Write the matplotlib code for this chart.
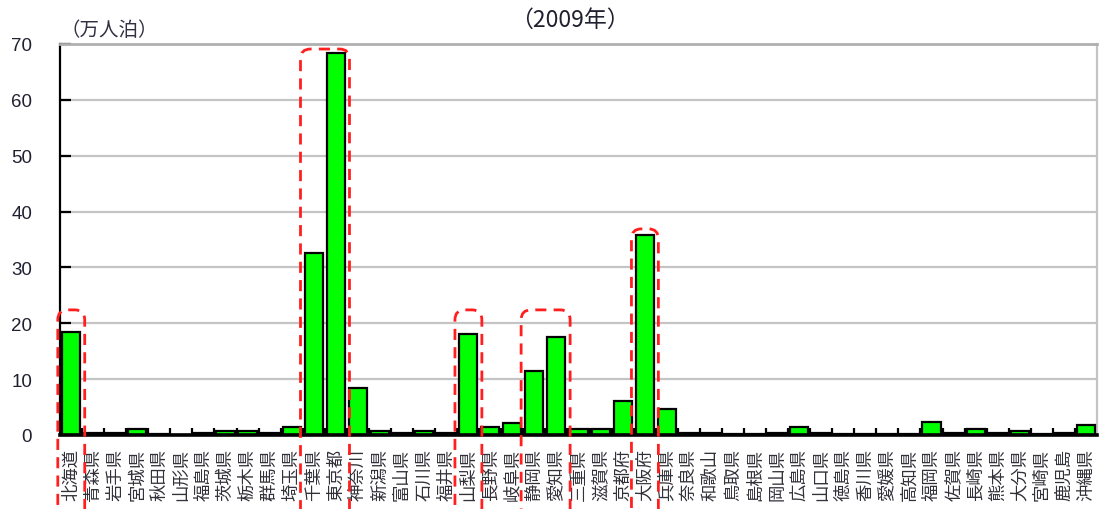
import numpy as np
import matplotlib
matplotlib.use("Agg")
import matplotlib.pyplot as plt
from matplotlib.patches import FancyBboxPatch

plt.rcParams['font.family'] = ['Noto Sans CJK JP', 'DejaVu Sans']

# Overnight stays by prefecture (10,000 person-nights), 2009
prefectures = [
    "北海道", "青森県", "岩手県", "宮城県", "秋田県", "山形県", "福島県",
    "茨城県", "栃木県", "群馬県", "埼玉県", "千葉県", "東京都", "神奈川",
    "新潟県", "富山県", "石川県", "福井県", "山梨県", "長野県", "岐阜県",
    "静岡県", "愛知県", "三重県", "滋賀県", "京都府", "大阪府", "兵庫県",
    "奈良県", "和歌山", "鳥取県", "島根県", "岡山県", "広島県", "山口県",
    "徳島県", "香川県", "愛媛県", "高知県", "福岡県", "佐賀県", "長崎県",
    "熊本県", "大分県", "宮崎県", "鹿児島", "沖縄県",
]
stays = [
    18.5, 0.3, 0.3, 1.1, 0.1, 0.05, 0.3,
    0.7, 0.7, 0.3, 1.4, 32.5, 68.3, 8.4,
    0.8, 0.3, 0.7, 0.3, 18.0, 1.4, 2.2,
    11.5, 17.6, 1.0, 1.0, 6.1, 35.8, 4.6,
    0.3, 0.3, 0.1, 0.1, 0.3, 1.5, 0.3,
    0.1, 0.1, 0.1, 0.1, 2.4, 0.3, 1.0,
    0.3, 0.7, 0.1, 0.3, 1.8,
]

# Highlighted groups: (first index, last index, top value of the frame)
highlight_groups = [(0, 0, 22.4), (11, 12, 69.1), (18, 18, 22.4),
                    (21, 22, 22.4), (26, 26, 36.9)]

W, H, DPI = 1101, 510, 100
fig = plt.figure(figsize=(W / DPI, H / DPI), dpi=DPI)
ax = fig.add_axes([60 / W, 1 - 436 / H, (1097 - 60) / W, (436 - 45) / H])

x = np.arange(len(prefectures))
ax.bar(x, stays, width=0.82, color="#00ff00", edgecolor="black",
       linewidth=1.6, zorder=3)

ax.set_xlim(-0.5, len(prefectures) - 0.5)
ax.set_ylim(0, 70)

# y axis
ax.set_yticks(np.arange(0, 71, 10))
ax.yaxis.grid(True, color="#c4c4c4", linewidth=1.6, zorder=0)
ax.set_axisbelow(True)
ax.tick_params(axis="y", direction="in", length=8, width=1.6, color="black",
               pad=20, labelsize=13.5, labelcolor="#202030")
for lbl in ax.get_yticklabels():
    lbl.set_family(["Liberation Sans", "DejaVu Sans"])

# x axis: labels under each bar, small ticks between categories
ax.set_xticks(x)
ax.set_xticklabels(prefectures, rotation=90, ha="center", va="top",
                   fontsize=12.5, color="#303038")
ax.tick_params(axis="x", which="major", length=0, pad=9)
ax.set_xticks(np.arange(0.5, len(prefectures) - 1, 1), minor=True)
ax.tick_params(axis="x", which="minor", direction="in", length=5,
               width=1.6, color="black")

for side, color, lw in [("left", "black", 1.6), ("bottom", "black", 2.6),
                        ("top", "#b0b0b0", 2.0), ("right", "#c4c4c4", 1.6)]:
    ax.spines[side].set_color(color)
    ax.spines[side].set_linewidth(lw)
ax.spines["bottom"].set_zorder(4)

# Red dashed frames around highlighted prefectures
px_per_x = (1097 - 60) / len(prefectures)
px_per_y = (436 - 45) / 70
aspect = px_per_x / px_per_y
for i0, i1, top in highlight_groups:
    left = i0 - 0.6
    right = i1 + 0.62
    bottom = -20
    frame = FancyBboxPatch((left, bottom), right - left, top - bottom,
                           boxstyle="round,pad=0,rounding_size=0.45",
                           mutation_aspect=aspect, fill=False,
                           edgecolor="#ff1f1f", linewidth=2.0,
                           linestyle=(0, (4, 2.6)), clip_on=False, zorder=6)
    ax.add_patch(frame)

fig.text(570 / W, 1 - 20 / H, "（2009年）", ha="center", va="center",
         fontsize=16.5, color="#202030")
fig.text(60 / W, 1 - 30 / H, "（万人泊）", ha="left", va="center",
         fontsize=14, color="#303040")

fig.savefig("out.png", dpi=DPI)
